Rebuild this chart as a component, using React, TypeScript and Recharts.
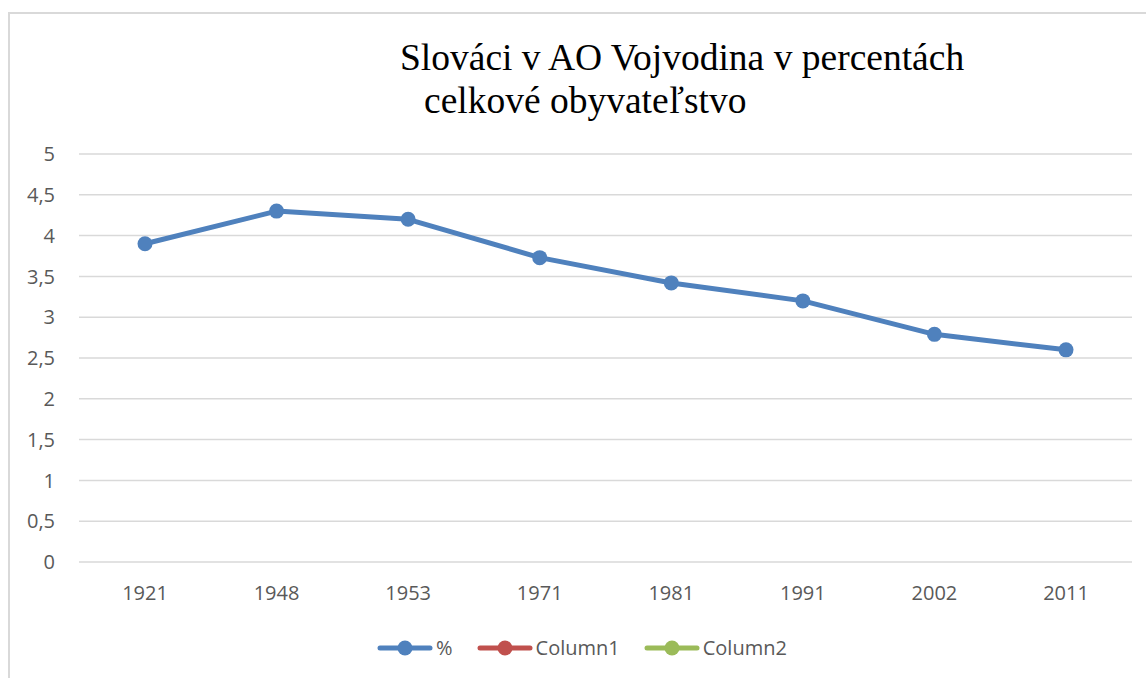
import { LineChart, Line, XAxis, YAxis, CartesianGrid } from "recharts";

// data
const YEARS = ["1921", "1948", "1953", "1971", "1981", "1991", "2002", "2011"];
const PERCENT = [3.9, 4.3, 4.2, 3.73, 3.42, 3.2, 2.79, 2.6];
const COLUMN1 = [null, null, null, null, null, null, null, null];
const COLUMN2 = [null, null, null, null, null, null, null, null];
const Y_TICKS = [0, 0.5, 1, 1.5, 2, 2.5, 3, 3.5, 4, 4.5, 5];

const TITLE_LINE1 = "Slováci v AO Vojvodina v percentách";
const TITLE_LINE2 = "celkové obyvateľstvo";

const SERIES = [
  { key: "pct", name: "%", color: "#4F81BD", values: PERCENT },
  { key: "c1", name: "Column1", color: "#C0504D", values: COLUMN1 },
  { key: "c2", name: "Column2", color: "#9BBB59", values: COLUMN2 },
];

const data = YEARS.map((year, i) => {
  const row: Record<string, string | number | null> = { year };
  SERIES.forEach((s) => (row[s.key] = s.values[i]));
  return row;
});

const FONT = "'Open Sans', sans-serif";
const TEXT_COLOR = "#595959";
const tickStyle = { fill: TEXT_COLOR, fontSize: 20, fontFamily: FONT };

function LegendMarker({ color }: { color: string }) {
  return (
    <svg width={56} height={18} style={{ display: "block" }}>
      <line x1={3} y1={9} x2={53} y2={9} stroke={color} strokeWidth={5} strokeLinecap="round" />
      <circle cx={28} cy={9} r={7.5} fill={color} />
    </svg>
  );
}

export default function App() {
  return (
    <div
      style={{
        position: "fixed",
        left: 0,
        top: 0,
        width: 1146,
        height: 678,
        overflow: "hidden",
        background: "#fff",
      }}
    >
      {/* chart frame, runs off the right and bottom of the page */}
      <div
        style={{
          position: "absolute",
          left: 8,
          top: 12,
          width: 1170,
          height: 720,
          border: "2px solid #d9d9d9",
          boxSizing: "border-box",
        }}
      />

      <div
        style={{
          position: "absolute",
          left: 400,
          top: 36,
          fontFamily: "'Liberation Serif', 'Times New Roman', serif",
          fontSize: 37.5,
          lineHeight: "43px",
          color: "#000",
          whiteSpace: "nowrap",
        }}
      >
        <div>{TITLE_LINE1}</div>
        <div style={{ marginLeft: 24 }}>{TITLE_LINE2}</div>
      </div>

      <div style={{ position: "absolute", left: 0, top: 0 }}>
        <LineChart
          width={1146}
          height={678}
          data={data}
          margin={{ top: 154, right: 14, bottom: 86, left: 19 }}
        >
          <CartesianGrid vertical={false} stroke="#d9d9d9" strokeWidth={1.5} />
          <XAxis
            dataKey="year"
            interval={0}
            axisLine={false}
            tickLine={false}
            tickSize={0}
            tickMargin={24}
            height={30}
            padding={{ left: 66, right: 66 }}
            tick={tickStyle}
          />
          <YAxis
            domain={[0, 5]}
            ticks={Y_TICKS}
            interval={0}
            axisLine={false}
            tickLine={false}
            tickSize={0}
            tickMargin={24}
            width={60}
            tick={tickStyle}
            tickFormatter={(v: number) => String(v).replace(".", ",")}
          />
          {SERIES.map((s) => (
            <Line
              key={s.key}
              type="linear"
              dataKey={s.key}
              name={s.name}
              stroke={s.color}
              strokeWidth={5}
              strokeLinejoin="round"
              dot={{ r: 7.5, fill: s.color, stroke: s.color, strokeWidth: 0 }}
              activeDot={false}
              isAnimationActive={false}
            />
          ))}
        </LineChart>
      </div>

      <div
        style={{
          position: "absolute",
          left: 377,
          top: 634,
          display: "flex",
          alignItems: "center",
          fontFamily: FONT,
          fontSize: 20,
          color: TEXT_COLOR,
        }}
      >
        {SERIES.map((s) => (
          <div key={s.key} style={{ display: "flex", alignItems: "center", marginRight: 24 }}>
            <LegendMarker color={s.color} />
            <span style={{ marginLeft: 3, lineHeight: "28px" }}>{s.name}</span>
          </div>
        ))}
      </div>
    </div>
  );
}
